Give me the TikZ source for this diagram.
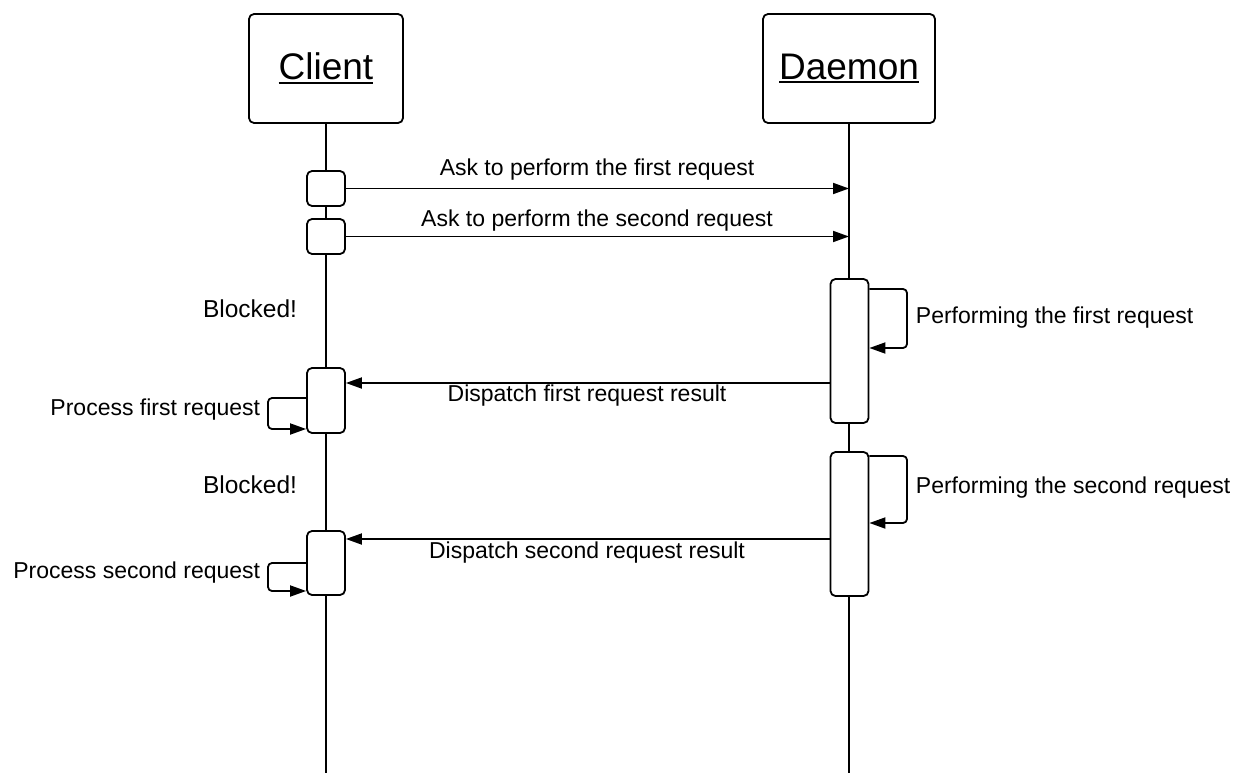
\documentclass[tikz,border=0pt]{standalone}
\usepackage{fontspec}
\setmainfont{Liberation Sans}
\usetikzlibrary{arrows.meta}
\newcommand{\uname}[1]{\vtop{\hbox{#1}\kern1.5pt\hrule height 2.5pt}}
\tikzset{
	head/.style = {rectangle, draw, rounded corners=5pt, fill=white, minimum height=109pt, font=\fontsize{37}{44}\selectfont},
	act/.style  = {rectangle, draw, rounded corners=5pt, fill=white, minimum width=38pt, inner sep=0pt},
	msg/.style  = {-{Triangle[length=16pt,width=11pt]}},
	lbl/.style  = {font=\fontsize{23}{27}\selectfont, inner sep=0pt}
}
\begin{document}
\begin{tikzpicture}[x=1pt, y=-1pt, line width=1.8pt, line join=round]
	\useasboundingbox (0,0) rectangle (1237,773);
	% lifelines
	\node (client) at (326, 68.5)	[head, minimum width=154pt]	{\uname{Client}};
	\node (daemon) at (849, 68.5)	[head, minimum width=172pt]	{\uname{Daemon}};
	\draw (client.south) -- (client.south |- 0,773);
	\draw (daemon.south) -- (daemon.south |- 0,773);
	% activations
	\node (c1)  at (326, 188.5)	[act, minimum height=35pt]	{};
	\node (c2)  at (326, 236.5)	[act, minimum height=35pt]	{};
	\node (d1)  at (849.5, 351)	[act, minimum height=144pt]	{};
	\node (ca1) at (326, 400.5)	[act, minimum height=65pt]	{};
	\node (d2)  at (849.5, 524)	[act, minimum height=144pt]	{};
	\node (ca2) at (326, 563)	[act, minimum height=64pt]	{};
	% messages
	\draw[msg] (c1.east) -- (c1.east -| daemon.south);
	\draw[msg] (c2.east) -- (c2.east -| daemon.south);
	\draw[msg] (d1.west |- 0,383) -- (ca1.east |- 0,383);
	\draw[msg] (d2.west |- 0,539) -- (ca2.east |- 0,539);
	% self calls
	\draw[msg, rounded corners=4pt] (d1.east |- 0,289) -- (907,289) |- (d1.east |- 0,348);
	\draw[msg, rounded corners=4pt] (d2.east |- 0,456) -- (907,456) |- (d2.east |- 0,523);
	\draw[msg, rounded corners=4pt] (ca1.west |- 0,398) -- (268,398) |- (ca1.west |- 0,429);
	\draw[msg, rounded corners=4pt] (ca2.west |- 0,563) -- (268,563) |- (ca2.west |- 0,591);
	% labels
	\node (m1) at (597, 170)	[lbl]	{Ask to perform the first request};
	\node (m2) at (597, 221)	[lbl]	{Ask to perform the second request};
	\node (b1) at (250, 309)	[lbl, font=\fontsize{24.5}{29}\selectfont]	{Blocked!};
	\node (b2) at (250, 485)	[lbl, font=\fontsize{24.5}{29}\selectfont]	{Blocked!};
	\node (p1) at (915, 318)	[lbl, anchor=west]	{Performing the first request};
	\node (p2) at (915, 488)	[lbl, anchor=west]	{Performing the second request};
	\node (r1) at (587, 396)	[lbl]	{Dispatch first request result};
	\node (r2) at (587, 553)	[lbl]	{Dispatch second request result};
	\node (s1) at (261, 410)	[lbl, anchor=east]	{Process first request};
	\node (s2) at (261, 573)	[lbl, anchor=east]	{Process second request};
\end{tikzpicture}
\end{document}
